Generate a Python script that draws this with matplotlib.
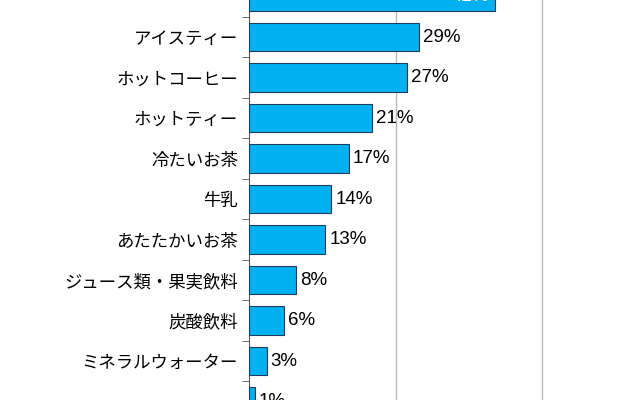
import matplotlib
matplotlib.use("Agg")
import matplotlib.pyplot as plt

plt.rcParams["font.family"] = "Noto Sans CJK JP"

categories = ["アイスコーヒー", "アイスティー", "ホットコーヒー", "ホットティー", "冷たいお茶",
              "牛乳", "あたたかいお茶", "ジュース類・果実飲料", "炭酸飲料", "ミネラルウォーター", "スポーツ飲料"]
values = [42, 29, 27, 21, 17, 14, 13, 8, 6, 3, 1]

fig = plt.figure(figsize=(6.4, 4), dpi=100)
ax = fig.add_axes([249 / 640, 0, 1 - 249 / 640, 1])
rows = list(range(len(categories)))
ax.barh(rows, values, height=0.7, color="#00B0F0", edgecolor="#1F3F5F", linewidth=0.8, zorder=3)

for r, v in zip(rows, values):
    if v >= 40:
        ax.text(v - 1, r, f"{v}%", color="white", fontsize=13.5, va="center", ha="right",
                fontfamily="Liberation Sans", zorder=4)
    else:
        ax.text(v + 0.7, r, f"{v}%", color="black", fontsize=13.5, va="center", ha="left",
                fontfamily="Liberation Sans", zorder=4)

ax.set_yticks(rows)
ax.set_yticklabels(categories, fontsize=12.5)
ax.tick_params(axis="y", which="major", length=0, pad=8)
ax.set_yticks([r + 0.5 for r in rows], minor=True)
ax.tick_params(axis="y", which="minor", length=5, color="#555555")
ax.set_xticks([25, 50])
ax.tick_params(axis="x", length=0, labelbottom=False)
ax.grid(axis="x", color="#BBBBBB", linewidth=1, zorder=0)
for s in ["top", "right", "bottom"]:
    ax.spines[s].set_visible(False)
ax.spines["left"].set_color("#555555")
ax.set_xlim(0, 66.7)
ax.set_ylim(9.96, 0.086)

fig.savefig("out.png", dpi=100)
